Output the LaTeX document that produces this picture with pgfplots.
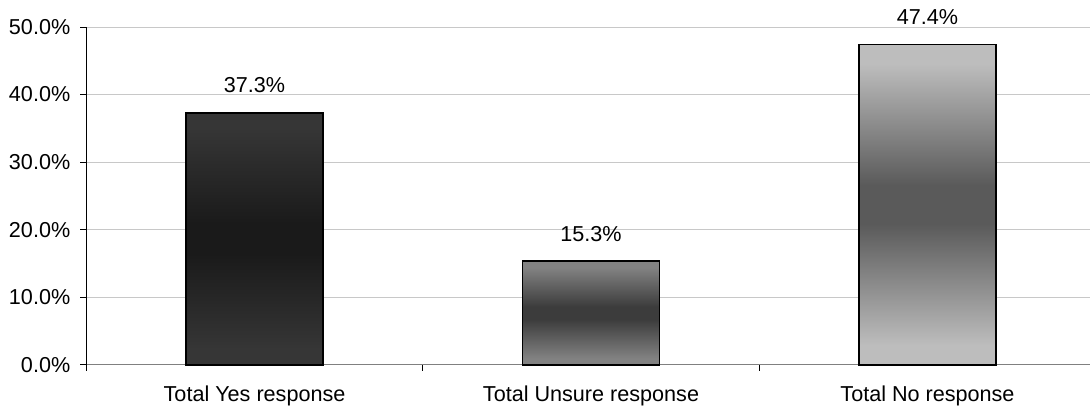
\documentclass[border=0pt]{standalone}
\usepackage{fontspec}
\setmainfont{Liberation Sans}
\usepackage{pgfplots}
\pgfplotsset{compat=1.18}

\definecolor{gridgray}{HTML}{C8C8C8}
\definecolor{axisgray}{HTML}{808080}
\definecolor{yesEdge}{HTML}{363636}
\definecolor{yesMid}{HTML}{1A1A1A}
\definecolor{unsEdge}{HTML}{828282}
\definecolor{unsMid}{HTML}{3C3C3C}
\definecolor{noEdge}{HTML}{BDBDBD}
\definecolor{noMid}{HTML}{5A5A5A}

% vertical gradients: light ends, dark band across the middle of each bar
\pgfdeclareverticalshading{yesShade}{100bp}{color(0bp)=(yesEdge); color(28bp)=(yesEdge); color(47bp)=(yesMid); color(53bp)=(yesMid); color(72bp)=(yesEdge); color(100bp)=(yesEdge)}
\pgfdeclareverticalshading{unsShade}{100bp}{color(0bp)=(unsEdge); color(28bp)=(unsEdge); color(47bp)=(unsMid); color(53bp)=(unsMid); color(72bp)=(unsEdge); color(100bp)=(unsEdge)}
\pgfdeclareverticalshading{noShade}{100bp}{color(0bp)=(noEdge); color(28bp)=(noEdge); color(47bp)=(noMid); color(53bp)=(noMid); color(72bp)=(noEdge); color(100bp)=(noEdge)}

\begin{document}
\begin{tikzpicture}[font=\fontsize{10.8}{13}\selectfont]
\begin{axis}[
  name=ax,
  scale only axis,
  width=501.85pt, height=168.85pt,
  xmin=-0.5, xmax=2.483,
  ymin=0, ymax=50,
  ytick={0,10,...,50},
  yticklabel={\pgfmathprintnumber[fixed,fixed zerofill,precision=1]{\tick}\%},
  /pgf/number format/assume math mode=true,
  ymajorgrids,
  grid style={draw=gridgray, line width=0.5pt},
  axis x line*=bottom,
  axis y line*=left,
  x axis line style={draw=axisgray, line width=0.6pt},
  y axis line style={draw=black, line width=0.6pt},
  tick align=outside,
  major tick length=3pt,
  tick style={draw=black, line width=0.5pt},
  xtick={-0.5,0.5,1.5},
  xticklabels={},
  extra x ticks={0,1,2},
  extra x tick labels={Total Yes response, Total Unsure response, Total No response},
  extra x tick style={major tick length=0pt,
    xticklabel style={yshift=-7pt}},
  yticklabel style={xshift=-1.5pt},
  nodes near coords={\pgfmathprintnumber[fixed,fixed zerofill,precision=1]{\pgfplotspointmeta}\%},
  every node near coord/.append style={anchor=base, yshift=10pt, text=black},
  clip=false,
]
\addplot[ybar, bar width=68.5pt, bar shift=0pt, draw=black, line width=0.9pt,
  shade, shading=yesShade]
  coordinates {(0,37.3)};
\addplot[ybar, bar width=68.5pt, bar shift=0pt, draw=black, line width=0.9pt,
  shade, shading=unsShade]
  coordinates {(1,15.3)};
\addplot[ybar, bar width=68.5pt, bar shift=0pt, draw=black, line width=0.9pt,
  shade, shading=noShade]
  coordinates {(2,47.4)};
\end{axis}
\pgfresetboundingbox
\useasboundingbox ([shift={(-43.15pt,-21.15pt)}]ax.south west)
  rectangle ([shift={(0pt,13.5pt)}]ax.north east);
\end{tikzpicture}
\end{document}
